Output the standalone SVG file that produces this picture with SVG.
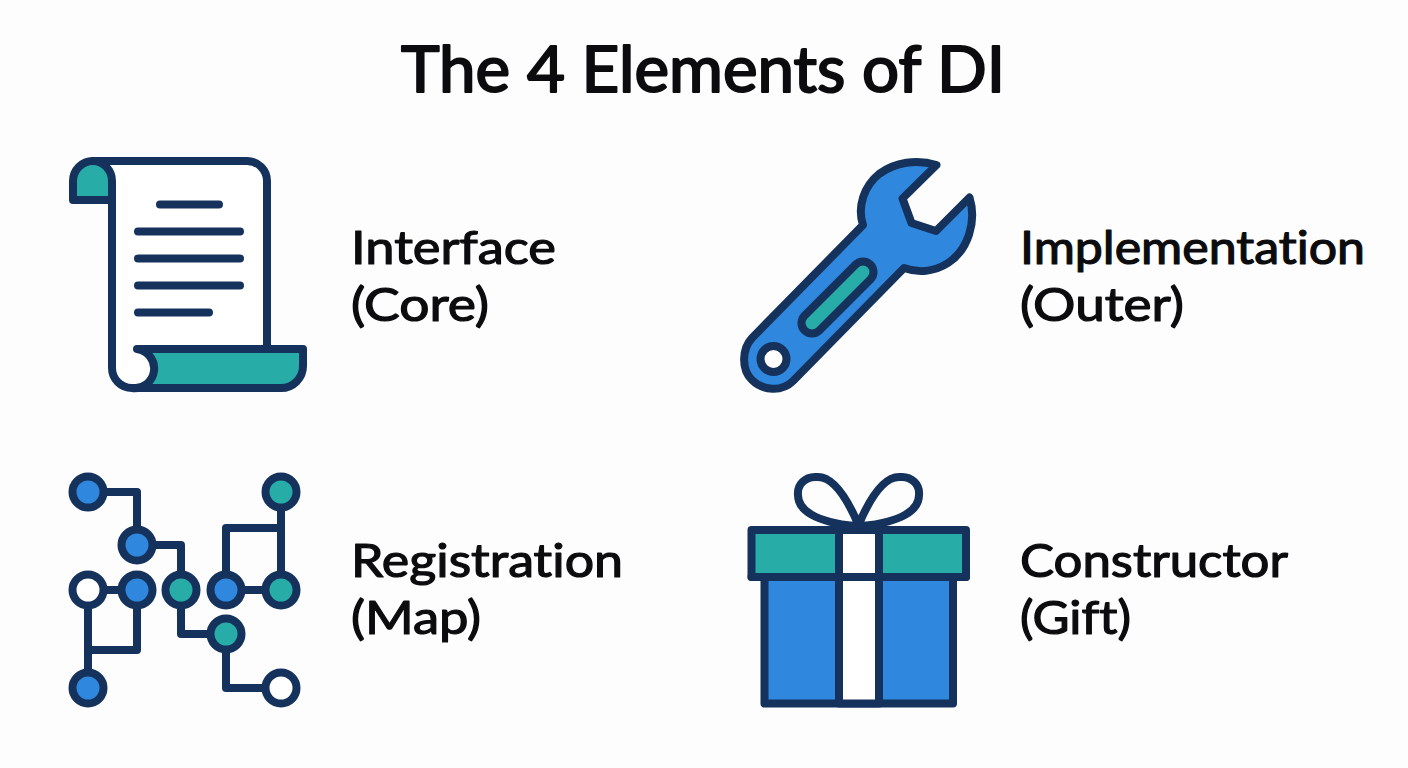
<svg xmlns="http://www.w3.org/2000/svg" width="1408" height="768" viewBox="0 0 1408 768">
<style>
.o{stroke:#14325c;stroke-width:8;stroke-linejoin:round;stroke-linecap:round}
.n{fill:none}
.t{fill:#27aca8}.b{fill:#2f87de}.w{fill:#fff}
.title,.label{font-family:"Lato","Liberation Sans",sans-serif;fill:#0c0c0e;stroke:#0c0c0e;stroke-linejoin:round;font-variant-ligatures:none}
.title{font-size:63px;stroke-width:2}
.label{font-size:46px;stroke-width:1.200}
</style>
<rect width="1408" height="768" fill="#fdfdfd"/>
<text class="title" x="401" y="92" textLength="604" lengthAdjust="spacingAndGlyphs">The 4 Elements of DI</text>
<g id="interface">
<path class="w" d="M93 161H247A20 20 0 0 1 267 181V349H137A19.500 19.500 0 0 1 132 388A20 20 0 0 1 112 368V181Z"/>
<path class="t" d="M73 200H112V181A19.500 20 0 0 0 92.500 161A19.500 20 0 0 0 73 181Z"/>
<path class="t" d="M137 349H303V366A22 22 0 0 1 281 388H132A19.500 19.500 0 0 0 137 349Z"/>
<path class="o n" d="M112 200H73V181A20 20 0 0 1 93 161H247A20 20 0 0 1 267 181V349"/>
<path class="o n" d="M93 161A19.500 20 0 0 1 112 181V368A20 20 0 0 0 132 388H281A22 22 0 0 0 303 366V349H137A19.500 19.500 0 0 1 132 388"/>
<path class="o n" d="M160 204.500H219M138 231.500H240M138 258.500H240M138 285.500H240M138 312.500H209"/>
</g>
<g id="implementation">
<path class="o b" d="M936.500 165L902.500 198.500L911.500 223L936 231L969.500 197.500C977 222 968 250 948 263C934 272 918 273 904 268L793 381C782 392 763 391 752 380C741 369 742 349 752 338L863 225C857 207 864 186 879 174C895 162 917 159 936.500 165Z"/>
<path d="M812 323L863 272" fill="none" stroke="#14325c" stroke-width="29" stroke-linecap="round"/>
<path d="M812 323L863 272" fill="none" stroke="#27aca8" stroke-width="13" stroke-linecap="round"/>
<circle class="o w" cx="773.500" cy="359" r="13"/>
</g>
<g id="registration">
<g id="map-links">
<path class="o n" d="M88 492H137V545M137 545H181V590M88 590H137M88 590V688M137 590V650H88M181 590V634H226V688H281M226 590V528H281M281 492V590M226 590H281"/>
</g>
<g class="o">
<circle id="m1" class="b" cx="88" cy="492" r="15.500"/>
<circle id="m2" class="b" cx="137" cy="545" r="15.500"/>
<circle id="m3" class="w" cx="88" cy="590" r="15.500"/>
<circle id="m4" class="b" cx="137" cy="590" r="15.500"/>
<circle id="m5" class="t" cx="181" cy="590" r="15.500"/>
<circle id="m6" class="b" cx="226" cy="590" r="15.500"/>
<circle id="m7" class="t" cx="281" cy="590" r="15.500"/>
<circle id="m8" class="t" cx="281" cy="492" r="15.500"/>
<circle id="m9" class="t" cx="226" cy="634" r="15.500"/>
<circle id="m10" class="b" cx="88" cy="688" r="15.500"/>
<circle id="m11" class="w" cx="281" cy="688" r="15.500"/>
</g>
</g>
<g id="constructor">
<path class="o n" d="M858.500 525C850 505 835 476 817 477C805 476 797 485 798 495C798 510 815 522 855 526M858.500 525C867 505 882 476 900 477C912 476 920 485 919 495C919 510 902 522 862 526"/>
<path class="o b" d="M764.500 577H953V703.500H764.500Z"/>
<path class="o t" d="M751.500 530H966V577H751.500Z"/>
<path class="o w" d="M839 530H879V703.500H839Z"/>
<path class="o n" d="M751.500 577H966"/>
</g>
<text class="label" x="351" y="264" textLength="205" lengthAdjust="spacingAndGlyphs">Interface</text>
<text class="label" x="351" y="321" textLength="138" lengthAdjust="spacingAndGlyphs">(Core)</text>
<text class="label" x="1020" y="264" textLength="345" lengthAdjust="spacingAndGlyphs">Implementation</text>
<text class="label" x="1020" y="321" textLength="164" lengthAdjust="spacingAndGlyphs">(Outer)</text>
<text class="label" x="351" y="577" textLength="272" lengthAdjust="spacingAndGlyphs">Registration</text>
<text class="label" x="351" y="634" textLength="130" lengthAdjust="spacingAndGlyphs">(Map)</text>
<text class="label" x="1020" y="577" textLength="268" lengthAdjust="spacingAndGlyphs">Constructor</text>
<text class="label" x="1020" y="634" textLength="111" lengthAdjust="spacingAndGlyphs">(Gift)</text>
</svg>
